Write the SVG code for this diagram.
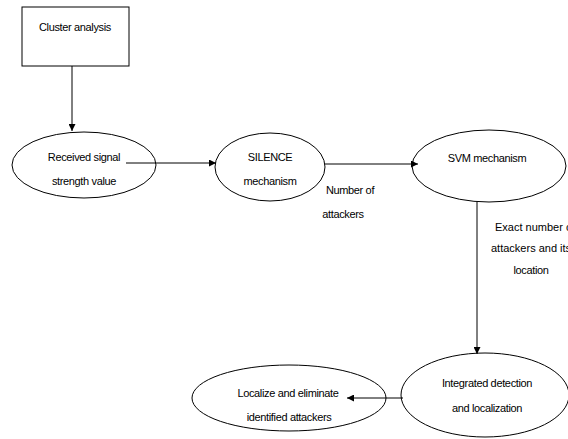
<svg xmlns="http://www.w3.org/2000/svg" width="568" height="439" viewBox="0 0 568 439">
<style>
.s{fill:#fff;stroke:#000;stroke-width:1}
.t{font-family:"Liberation Sans",Arial,sans-serif;font-size:11px;fill:#000;letter-spacing:-0.35px}
.w{letter-spacing:0}
.m{text-anchor:middle}
.c{stroke:#000;stroke-width:1;fill:none}
</style>
<defs>
<marker id="a" viewBox="0 0 10 10" refX="10" refY="5" markerWidth="7" markerHeight="7" markerUnits="userSpaceOnUse" orient="auto"><path d="M0,0L10,5L0,10z" fill="#000"/></marker>
</defs>
<rect width="568" height="439" fill="#fff"/>
<g id="cluster"><rect class="s" x="22" y="7" width="107" height="59"/><text class="t m" x="75" y="31">Cluster analysis</text></g>
<g id="rssv"><ellipse class="s" cx="84" cy="165" rx="72" ry="33"/><text class="t m" x="84" y="161">Received signal</text><text class="t m" x="84" y="185">strength value</text></g>
<g id="silence"><ellipse class="s" cx="270" cy="167" rx="55" ry="34"/><text class="t m" x="270" y="161">SILENCE</text><text class="t m" x="270" y="185">mechanism</text></g>
<g id="svm"><ellipse class="s" cx="489" cy="166" rx="77" ry="36"/><text class="t m" x="487" y="162">SVM mechanism</text></g>
<g id="integrated"><ellipse class="s" cx="485" cy="395" rx="84" ry="42"/><text class="t m" x="487" y="387">Integrated detection</text><text class="t m" x="487" y="412">and localization</text></g>
<g id="localize"><ellipse class="s" cx="289" cy="398" rx="97" ry="33"/><text class="t m" x="288" y="397">Localize and eliminate</text><text class="t m" x="289" y="421">identified attackers</text></g>
<g id="connectors">
<line class="c" x1="72" y1="66" x2="72" y2="131" marker-end="url(#a)"/>
<line class="c" x1="126" y1="163" x2="216" y2="163" marker-end="url(#a)"/>
<line class="c" x1="325" y1="164" x2="418" y2="164" marker-end="url(#a)"/>
<line class="c" x1="477" y1="202" x2="477" y2="354" marker-end="url(#a)"/>
<line class="c" x1="403" y1="398" x2="347" y2="398" marker-end="url(#a)"/>
</g>
<g id="labels">
<text class="t m" x="350" y="194">Number of</text>
<text class="t m" x="343" y="218">attackers</text>
<text class="t w" x="495" y="231">Exact number of</text>
<text class="t w" x="491" y="252">attackers and its</text>
<text class="t m" x="531" y="274">location</text>
</g>
</svg>
